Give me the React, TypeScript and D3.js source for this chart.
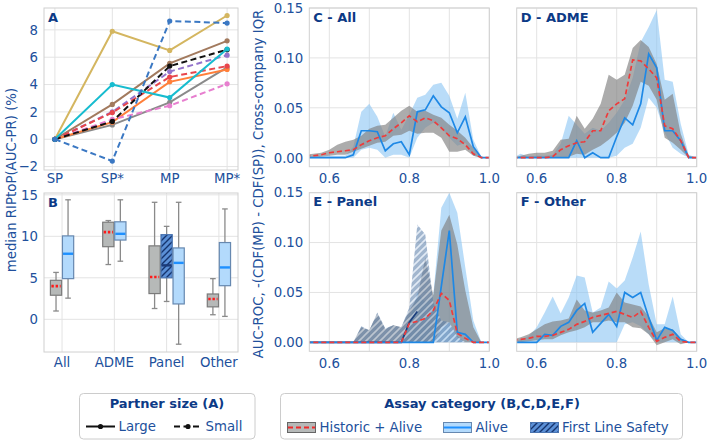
import React from "react";
import * as d3 from "d3";

const FONT = "'DejaVu Sans', Verdana, sans-serif";
const TICK = "#21509c";
const NAVY = "#0c3a86";
const GRID = "#e3e3e3";
const SPINE = "#d0d0d0";
const FS = 13.3;

// ---------- Panel A ----------
const stageLabels = ["SP", "SP*", "MP", "MP*"];
const aTicksY = [-2, 0, 2, 4, 6, 8];
const aGold = [0, 7.9, 6.5, 9.05];
const aBrown = [0, 2.55, 5.55, 7.2];
const aGray = [0, 1.05, 2.7, 5.25];
const aOrange = [0, 1.25, 4.2, 5.1];
const aPink = [0, 1.45, 2.45, 4.05];
const aPurple = [0, 2.0, 4.95, 6.15];
const aRed = [0, 1.95, 4.55, 5.35];
const aBlack = [0, 1.3, 5.35, 6.55];
const aCyan = [0, 4.0, 3.05, 6.6];
const aBlue = [0, -1.6, 8.65, 8.5];

// ---------- Panel B ----------
const boxCategories = ["All", "ADME", "Panel", "Other"];
const bTicksY = [0, 5, 10, 15];
// [whisker low, Q1, median, Q3, whisker high]
const bHistAll = [1.0, 2.9, 4.0, 4.7, 5.65];
const bAliveAll = [2.55, 4.9, 7.9, 10.05, 14.4];
const bHistAdme = [6.6, 8.75, 10.5, 11.7, 11.9];
const bAliveAdme = [7.0, 9.55, 10.3, 11.75, 14.4];
const bHistPanel = [1.3, 3.1, 5.1, 8.85, 14.1];
const bFlsPanel = [2.15, 5.0, 6.5, 10.2, 11.2];
const bAlivePanel = [-3.0, 1.85, 6.8, 8.6, 14.1];
const bHistOther = [0.55, 1.5, 2.45, 3.05, 4.9];
const bAliveOther = [0.35, 4.05, 6.25, 9.25, 13.3];

// ---------- Panels C-F ----------
const aucGrid = [0.54, 0.56, 0.58, 0.6, 0.62, 0.64, 0.66, 0.68, 0.7, 0.72, 0.74, 0.76, 0.78, 0.8, 0.82, 0.84, 0.86, 0.88, 0.9, 0.92, 0.94, 0.96, 0.98, 1.0];
const densityGridX = [0.6, 0.7, 0.8, 0.9, 1.0];
const densityTickX = [0.6, 0.8, 1.0];
const densityTickY = [0, 0.05, 0.1, 0.15];

const allAliveMed = [0, 0, 0, 0, 0, 0, 0.003, 0.027, 0.027, 0.026, 0.007, 0.014, 0.016, 0.003, 0.046, 0.048, 0.062, 0.051, 0.045, 0.025, 0.041, 0.011, 0, 0];
const allAliveHi = [0.001, 0.001, 0.001, 0.002, 0.002, 0.002, 0.011, 0.046, 0.054, 0.041, 0.021, 0.045, 0.028, 0.043, 0.06, 0.063, 0.073, 0.075, 0.062, 0.039, 0.065, 0.018, 0.001, 0];
const allAliveLo = [0, 0, 0, 0, 0, 0, 0, 0.008, 0.01, 0.008, 0, 0.003, 0.003, 0, 0.02, 0.03, 0.035, 0.03, 0.02, 0.012, 0.015, 0.002, 0, 0];
const allHistMed = [0.002, 0.002, 0.003, 0.005, 0.006, 0.007, 0.008, 0.013, 0.017, 0.02, 0.022, 0.029, 0.035, 0.042, 0.036, 0.04, 0.037, 0.03, 0.022, 0.019, 0.013, 0.004, 0, 0];
const allHistHi = [0.003, 0.004, 0.005, 0.008, 0.013, 0.016, 0.018, 0.022, 0.029, 0.032, 0.033, 0.04, 0.047, 0.052, 0.046, 0.047, 0.043, 0.04, 0.033, 0.027, 0.02, 0.01, 0.001, 0];
const allHistLo = [0, 0, 0.001, 0.002, 0.003, 0.003, 0.006, 0.009, 0.012, 0.015, 0.016, 0.022, 0.023, 0.027, 0.024, 0.025, 0.025, 0.02, 0.006, 0.006, 0.008, 0.002, 0, 0];

const admeAliveMed = [0, 0, 0, 0, 0, 0, 0, 0, 0.017, 0, 0.005, 0, 0, 0.021, 0.04, 0.033, 0.054, 0.104, 0.09, 0.027, 0.027, 0.017, 0, 0];
const admeAliveHi = [0, 0.004, 0.001, 0.002, 0.002, 0.003, 0.014, 0.042, 0.033, 0.024, 0.03, 0.027, 0.035, 0.045, 0.058, 0.08, 0.116, 0.131, 0.148, 0.078, 0.076, 0.034, 0.003, 0];
const admeAliveLo = [0, 0, 0, 0, 0, 0, 0, 0, 0, 0, 0, 0, 0, 0.002, 0.01, 0.014, 0.03, 0.06, 0.05, 0.025, 0.01, 0.004, 0, 0];
const admeHistMed = [0, 0, 0, 0, 0, 0.001, 0.008, 0.012, 0.015, 0.016, 0.027, 0.027, 0.047, 0.054, 0.059, 0.098, 0.097, 0.089, 0.08, 0.032, 0.029, 0.017, 0, 0];
const admeHistHi = [0, 0.002, 0.004, 0.005, 0.005, 0.007, 0.018, 0.019, 0.042, 0.029, 0.039, 0.054, 0.083, 0.078, 0.083, 0.11, 0.118, 0.111, 0.094, 0.058, 0.064, 0.024, 0.002, 0];
const admeHistLo = [0, 0, 0, 0, 0, 0, 0, 0.001, 0.004, 0.003, 0.008, 0.012, 0.018, 0.025, 0.035, 0.052, 0.076, 0.072, 0.058, 0.02, 0.015, 0.008, 0, 0];

const panelAliveMed = [0, 0, 0, 0, 0, 0, 0, 0, 0, 0, 0, 0, 0, 0, 0, 0, 0, 0.056, 0.112, 0.01, 0.008, 0, 0, 0];
const panelAliveHi = [0, 0, 0, 0, 0, 0, 0, 0, 0, 0, 0, 0, 0, 0.02, 0.05, 0.04, 0.048, 0.135, 0.15, 0.13, 0.075, 0.022, 0, 0];
const panelAliveLo = [0, 0, 0, 0, 0, 0, 0, 0, 0, 0, 0, 0, 0, 0, 0, 0, 0, 0, 0, 0, 0, 0, 0, 0];
const panelHistMed = [0, 0, 0, 0, 0, 0, 0, 0, 0, 0, 0, 0, 0, 0.019, 0.021, 0.024, 0.032, 0.049, 0.042, 0.009, 0.004, 0, 0, 0];
const panelHistHi = [0, 0, 0, 0, 0, 0, 0, 0.015, 0.012, 0.029, 0.013, 0.017, 0.015, 0.032, 0.045, 0.085, 0.047, 0.112, 0.128, 0.098, 0.052, 0.015, 0, 0];
const panelHistLo = [0, 0, 0, 0, 0, 0, 0, 0, 0, 0, 0, 0, 0, 0, 0, 0, 0, 0.015, 0.02, 0.005, 0, 0, 0, 0];
const panelFlsMed = [0, 0, 0, 0, 0, 0, 0, 0, 0, 0, 0, 0, 0, 0.02, 0.031, null, null, null, null, null, null, null, null, null];
const panelFlsHi = [0, 0, 0, 0, 0, 0, 0, 0.016, 0.012, 0.03, 0.014, 0.017, 0.015, 0.035, 0.118, 0.108, 0.04, 0.022, 0.02, 0.006, 0, 0, 0, 0];
const panelFlsLo = [0, 0, 0, 0, 0, 0, 0, 0, 0, 0, 0, 0, 0, 0, 0, 0, 0, 0, 0, 0, 0, 0, 0, 0];

const otherAliveMed = [0, 0, 0, 0, 0.008, 0.007, 0.016, 0.02, 0.032, 0.039, 0.01, 0.019, 0.028, 0.016, 0.05, 0.045, 0.05, 0.025, 0.002, 0.015, 0.012, 0.003, 0, 0];
const otherAliveHi = [0.002, 0.003, 0.006, 0.015, 0.03, 0.046, 0.029, 0.045, 0.067, 0.065, 0.03, 0.035, 0.061, 0.054, 0.062, 0.085, 0.111, 0.058, 0.018, 0.018, 0.046, 0.008, 0, 0];
const otherAliveLo = [0, 0, 0, 0, 0, 0, 0, 0, 0, 0, 0, 0, 0, 0, 0.018, 0.02, 0.016, 0.008, 0, 0, 0, 0, 0, 0];
const otherHistMed = [0.002, 0.003, 0.004, 0.006, 0.006, 0.007, 0.01, 0.013, 0.018, 0.021, 0.025, 0.027, 0.029, 0.031, 0.028, 0.025, 0.031, 0.015, 0.001, 0.005, 0.008, 0.001, 0, 0];
const otherHistHi = [0.003, 0.005, 0.008, 0.013, 0.018, 0.021, 0.022, 0.024, 0.043, 0.032, 0.03, 0.032, 0.035, 0.05, 0.04, 0.038, 0.036, 0.026, 0.01, 0.014, 0.013, 0.004, 0, 0];
const otherHistLo = [0, 0, 0.001, 0.002, 0.003, 0.003, 0.007, 0.01, 0.012, 0.015, 0.02, 0.02, 0.022, 0.02, 0.02, 0.015, 0.014, 0.008, -0.003, 0, 0.003, -0.002, 0, 0];

const fmtMinus = (v: number, f: (n: number) => string) => (v < 0 ? "\u2212" + f(-v) : f(v));

type Num = number | null;

function DensityPanel(props: {
  id: string; x0: number; x1: number; y0: number; y1: number; title: string; showY: boolean;
  histMed: number[]; histLo: number[]; histHi: number[];
  aliveMed: number[]; aliveLo: number[]; aliveHi: number[];
  flsMed?: Num[]; flsLo?: number[]; flsHi?: number[];
}) {
  const { id, x0, x1, y0, y1 } = props;
  const xs = d3.scaleLinear().domain([0.55, 1.0]).range([x0, x1]);
  const ys = d3.scaleLinear().domain([-0.009, 0.15]).range([y1, y0]);
  const band = (lo: number[], hi: number[]) =>
    d3.area<number>().x((_, i) => xs(aucGrid[i])).y0((_, i) => ys(lo[i])).y1((d) => ys(d))(hi) || "";
  const line = (v: Num[]) =>
    d3.line<Num>().defined((d) => d != null).x((_, i) => xs(aucGrid[i])).y((d) => ys(d as number))(v) || "";
  const f2 = d3.format(".2f");
  const f1 = d3.format(".1f");
  return (
    <g>
      <defs>
        <clipPath id={"clip-" + id}>
          <rect x={x0} y={y0} width={x1 - x0} height={y1 - y0} />
        </clipPath>
      </defs>
      {densityGridX.map((t) => (
        <line key={"gx" + t} x1={xs(t)} x2={xs(t)} y1={y0} y2={y1} stroke={GRID} strokeWidth={1} />
      ))}
      {densityTickY.map((t) => (
        <line key={"gy" + t} x1={x0} x2={x1} y1={ys(t)} y2={ys(t)} stroke={GRID} strokeWidth={1} />
      ))}
      <g clipPath={`url(#clip-${id})`}>
        <path d={band(props.aliveLo, props.aliveHi)} fill="#8ac5f3" opacity={0.6} />
        <path d={band(props.histLo, props.histHi)} fill="#808080" opacity={0.65} />
        {props.flsHi && props.flsLo && (
          <path d={band(props.flsLo, props.flsHi)} fill="url(#hatchLight)" opacity={0.56} />
        )}
        {props.flsMed && <path d={line(props.flsMed)} fill="none" stroke="#1b3f7e" strokeWidth={1.7} />}
        <path d={line(props.aliveMed)} fill="none" stroke="#1e88e5" strokeWidth={1.7} />
        <path d={line(props.histMed)} fill="none" stroke="#ee3b3b" strokeWidth={1.7} strokeDasharray="5,3" />
      </g>
      <rect x={x0} y={y0} width={x1 - x0} height={y1 - y0} fill="none" stroke={SPINE} strokeWidth={1} />
      {densityTickX.map((t) => (
        <text key={"tx" + t} x={xs(t)} y={y1 + 16.5} textAnchor="middle" fontSize={FS} fill={TICK} fontFamily={FONT}>
          {f1(t)}
        </text>
      ))}
      {props.showY &&
        densityTickY.map((t) => (
          <text key={"ty" + t} x={x0 - 6} y={ys(t)} dy="0.36em" textAnchor="end" fontSize={FS} fill={TICK} fontFamily={FONT}>
            {f2(t)}
          </text>
        ))}
      <text x={x0 + 4} y={y0 + 13.5} fontSize={13} fontWeight="bold" fill={NAVY} fontFamily={FONT}>
        {props.title}
      </text>
    </g>
  );
}

export default function App() {
  // Panel A scales
  const aL = 44, aR = 238, aT = 8, aB = 170;
  const xA = d3.scaleLinear().domain([-0.19, 3.19]).range([aL, aR]);
  const yA = d3.scaleLinear().domain([-2.25, 9.6]).range([aB, aT]);
  // Panel B scales
  const bT = 193, bB = 352;
  const xB = d3.scaleLinear().domain([-0.345, 3.365]).range([aL, aR]);
  const yB = d3.scaleLinear().domain([-3.94, 15.22]).range([bB, bT]);

  const partnerTable = [
    { values: aGold, color: "#d4b660", dashed: false },
    { values: aBrown, color: "#a27a5e", dashed: false },
    { values: aGray, color: "#8a8a8a", dashed: false },
    { values: aOrange, color: "#ff7f3a", dashed: false },
    { values: aPink, color: "#e77fcf", dashed: true },
    { values: aPurple, color: "#9474cc", dashed: true },
    { values: aRed, color: "#e8464c", dashed: true },
    { values: aBlack, color: "#111111", dashed: true },
    { values: aCyan, color: "#17bccf", dashed: false },
    { values: aBlue, color: "#3b78c3", dashed: true },
  ];
  const lineA = d3.line<number>().x((_, i) => xA(i)).y((d) => yA(d));

  const boxTable = [
    { cat: 0, off: -0.115, stats: bHistAll, kind: "hist" },
    { cat: 0, off: 0.115, stats: bAliveAll, kind: "alive" },
    { cat: 1, off: -0.115, stats: bHistAdme, kind: "hist" },
    { cat: 1, off: 0.115, stats: bAliveAdme, kind: "alive" },
    { cat: 2, off: -0.23, stats: bHistPanel, kind: "hist" },
    { cat: 2, off: 0, stats: bFlsPanel, kind: "fls" },
    { cat: 2, off: 0.23, stats: bAlivePanel, kind: "alive" },
    { cat: 3, off: -0.115, stats: bHistOther, kind: "hist" },
    { cat: 3, off: 0.115, stats: bAliveOther, kind: "alive" },
  ];
  const boxW = xB(0.215) - xB(0);

  const colC = [309.3, 489.3];
  const colD = [516.7, 696.7];
  const row1 = [8, 166.7];
  const row2 = [192.7, 351.3];

  return (
    <svg width={716} height={448} style={{ position: "absolute", left: 0, top: 0, background: "#fff" }} fontFamily={FONT}>
      <defs>
        <pattern id="hatchDark" patternUnits="userSpaceOnUse" width={6} height={6}>
          <rect width={6} height={6} fill="#5a8fd6" />
          <path d="M-1,1 l2,-2 M0,6 l6,-6 M5,7 l2,-2" stroke="#15346e" strokeWidth={1.4} />
        </pattern>
        <pattern id="hatchLight" patternUnits="userSpaceOnUse" width={7} height={7}>
          <rect width={7} height={7} fill="#587ca8" />
          <path d="M-1,1 l2,-2 M0,7 l7,-7 M6,8 l2,-2" stroke="#c9d9ec" strokeWidth={1.6} />
        </pattern>
      </defs>
      <rect x={0} y={0} width={716} height={448} fill="#fff" />

      {/* ---------- Panel A ---------- */}
      {aTicksY.map((t) => (
        <line key={"agy" + t} x1={aL} x2={aR} y1={yA(t)} y2={yA(t)} stroke={GRID} />
      ))}
      {stageLabels.map((_, i) => (
        <line key={"agx" + i} x1={xA(i)} x2={xA(i)} y1={aT} y2={aB} stroke={GRID} />
      ))}
      {partnerTable.map((s, k) => (
        <g key={"ps" + k}>
          <path d={lineA(s.values) || ""} fill="none" stroke={s.color} strokeWidth={2} strokeDasharray={s.dashed ? "6,3.5" : undefined} />
          {s.values.map((v, i) => (
            <circle key={i} cx={xA(i)} cy={yA(v)} r={2.6} fill={s.color} />
          ))}
        </g>
      ))}
      <rect x={aL} y={aT} width={aR - aL} height={aB - aT} fill="none" stroke={SPINE} />
      {aTicksY.map((t) => (
        <text key={"aty" + t} x={aL - 6} y={yA(t)} dy="0.36em" textAnchor="end" fontSize={FS} fill={TICK}>
          {fmtMinus(t, (n) => String(n))}
        </text>
      ))}
      {stageLabels.map((s, i) => (
        <text key={"atx" + i} x={xA(i)} y={aB + 13} textAnchor="middle" fontSize={FS} fill={TICK}>
          {s}
        </text>
      ))}
      <text x={aL + 4} y={aT + 13.5} fontSize={13} fontWeight="bold" fill={NAVY}>A</text>

      {/* ---------- Panel B ---------- */}
      {bTicksY.map((t) => (
        <line key={"bgy" + t} x1={aL} x2={aR} y1={yB(t)} y2={yB(t)} stroke={GRID} />
      ))}
      {boxCategories.map((_, i) => (
        <line key={"bgx" + i} x1={xB(i)} x2={xB(i)} y1={bT} y2={bB} stroke={GRID} />
      ))}
      {boxTable.map((b, k) => {
        const cx = xB(b.cat + b.off);
        const [lo, q1, med, q3, hi] = b.stats;
        const fill = b.kind === "hist" ? "#b6b9b8" : b.kind === "alive" ? "#b3dafc" : "url(#hatchDark)";
        const edge = b.kind === "hist" ? "#7a7a7a" : b.kind === "alive" ? "#6688b0" : "#4a74b0";
        const wc = "#8a8a8a";
        return (
          <g key={"box" + k}>
            <line x1={cx} x2={cx} y1={yB(q3)} y2={yB(hi)} stroke={wc} strokeWidth={1.3} />
            <line x1={cx} x2={cx} y1={yB(q1)} y2={yB(lo)} stroke={wc} strokeWidth={1.3} />
            <line x1={cx - boxW / 4} x2={cx + boxW / 4} y1={yB(hi)} y2={yB(hi)} stroke={wc} strokeWidth={1.3} />
            <line x1={cx - boxW / 4} x2={cx + boxW / 4} y1={yB(lo)} y2={yB(lo)} stroke={wc} strokeWidth={1.3} />
            <rect x={cx - boxW / 2} y={yB(q3)} width={boxW} height={yB(q1) - yB(q3)} fill={fill} stroke={edge} strokeWidth={1.2} />
            {b.kind === "hist" ? (
              <line x1={cx - boxW / 2 + 1} x2={cx + boxW / 2 - 1} y1={yB(med)} y2={yB(med)} stroke="#ff1a1a" strokeWidth={2.6} strokeDasharray="2.4,1.8" />
            ) : (
              <line x1={cx - boxW / 2 + 0.6} x2={cx + boxW / 2 - 0.6} y1={yB(med)} y2={yB(med)} stroke={b.kind === "alive" ? "#1e90ff" : "#1b3a78"} strokeWidth={2.4} />
            )}
          </g>
        );
      })}
      <rect x={aL} y={bT} width={aR - aL} height={bB - bT} fill="none" stroke={SPINE} />
      {bTicksY.map((t) => (
        <text key={"bty" + t} x={aL - 6} y={yB(t)} dy="0.36em" textAnchor="end" fontSize={FS} fill={TICK}>
          {String(t)}
        </text>
      ))}
      {boxCategories.map((s, i) => (
        <text key={"btx" + i} x={xB(i)} y={bB + 15} textAnchor="middle" fontSize={FS} fill={TICK}>
          {s}
        </text>
      ))}
      <text x={aL + 4} y={bT + 13.5} fontSize={13} fontWeight="bold" fill={NAVY}>B</text>

      {/* ---------- Panels C-F ---------- */}
      <DensityPanel id="c" x0={colC[0]} x1={colC[1]} y0={row1[0]} y1={row1[1]} title="C - All" showY
        histMed={allHistMed} histLo={allHistLo} histHi={allHistHi} aliveMed={allAliveMed} aliveLo={allAliveLo} aliveHi={allAliveHi} />
      <DensityPanel id="d" x0={colD[0]} x1={colD[1]} y0={row1[0]} y1={row1[1]} title="D - ADME" showY={false}
        histMed={admeHistMed} histLo={admeHistLo} histHi={admeHistHi} aliveMed={admeAliveMed} aliveLo={admeAliveLo} aliveHi={admeAliveHi} />
      <DensityPanel id="e" x0={colC[0]} x1={colC[1]} y0={row2[0]} y1={row2[1]} title="E - Panel" showY
        histMed={panelHistMed} histLo={panelHistLo} histHi={panelHistHi} aliveMed={panelAliveMed} aliveLo={panelAliveLo} aliveHi={panelAliveHi}
        flsMed={panelFlsMed} flsLo={panelFlsLo} flsHi={panelFlsHi} />
      <DensityPanel id="f" x0={colD[0]} x1={colD[1]} y0={row2[0]} y1={row2[1]} title="F - Other" showY={false}
        histMed={otherHistMed} histLo={otherHistLo} histHi={otherHistHi} aliveMed={otherAliveMed} aliveLo={otherAliveLo} aliveHi={otherAliveHi} />

      {/* ---------- Axis labels ---------- */}
      <text transform="translate(16,180) rotate(-90)" textAnchor="middle" fontSize={FS} fill={TICK}>
        median RIPtoP(AUC-PR) (%)
      </text>
      <text transform="translate(263,184) rotate(-90)" textAnchor="middle" fontSize={FS} fill={TICK}>
        AUC-ROC, -(CDF(MP) - CDF(SP)), Cross-company IQR
      </text>

      {/* ---------- Legends ---------- */}
      <rect x={79.5} y={393.5} width={175.5} height={45.5} rx={4} fill="#fff" stroke="#cccccc" />
      <text x={167} y={408} textAnchor="middle" fontSize={13} fontWeight="bold" fill={NAVY}>Partner size (A)</text>
      <line x1={86} x2={115} y1={426.5} y2={426.5} stroke="#111" strokeWidth={2} />
      <circle cx={100.5} cy={426.5} r={2.6} fill="#111" />
      <text x={118.5} y={431} fontSize={FS} fill={TICK}>Large</text>
      <line x1={173.5} x2={202.5} y1={426.5} y2={426.5} stroke="#111" strokeWidth={2} strokeDasharray="6,3.5" strokeDashoffset={-0.5} />
      <circle cx={188} cy={426.5} r={2.6} fill="#111" />
      <text x={205.5} y={431} fontSize={FS} fill={TICK}>Small</text>

      <rect x={280.5} y={393.5} width={402} height={45.5} rx={4} fill="#fff" stroke="#cccccc" />
      <text x={482} y={408} textAnchor="middle" fontSize={13} fontWeight="bold" fill={NAVY}>Assay category (B,C,D,E,F)</text>
      <rect x={287.5} y={422.5} width={28} height={10} fill="#b6b9b8" stroke="#666" strokeWidth={1} />
      <line x1={288} x2={315} y1={427.5} y2={427.5} stroke="#ee2b2b" strokeWidth={2} strokeDasharray="5,3" />
      <text x={319.5} y={431.5} fontSize={FS} fill={TICK}>Historic + Alive</text>
      <rect x={443.5} y={422.5} width={28} height={10} fill="#b3dafc" stroke="#6688b0" strokeWidth={1} />
      <line x1={444} x2={471} y1={427.5} y2={427.5} stroke="#1e90ff" strokeWidth={2} />
      <text x={475.5} y={431.5} fontSize={FS} fill={TICK}>Alive</text>
      <rect x={530.5} y={422.5} width={28} height={10} fill="url(#hatchDark)" stroke="#4a74b0" strokeWidth={1} />
      <text x={562} y={431.5} fontSize={FS} fill={TICK}>First Line Safety</text>
    </svg>
  );
}
